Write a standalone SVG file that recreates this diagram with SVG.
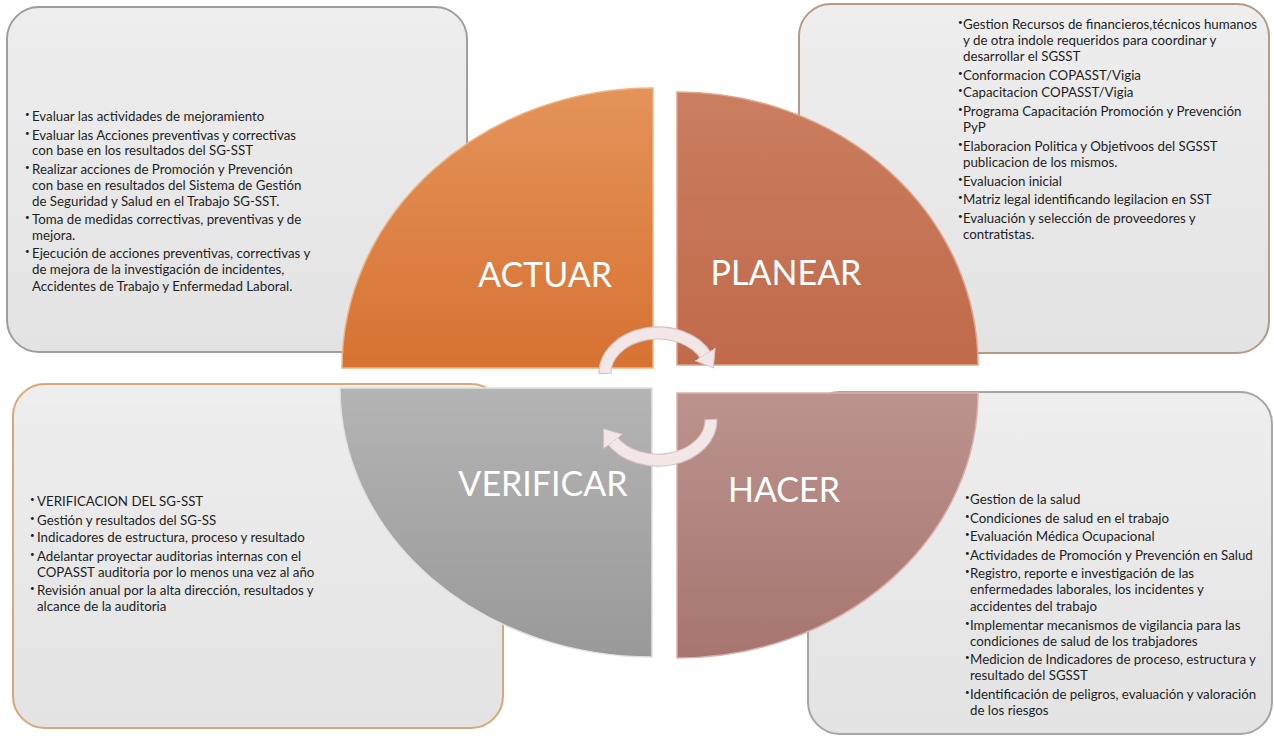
<svg xmlns="http://www.w3.org/2000/svg" width="1274" height="736" viewBox="0 0 1274 736">
  <style>
    .box { stroke-width: 2; }
    .body { font-family: Lato, "Liberation Sans", sans-serif; font-size: 13.3px; fill: #1e1e1e; }
    .bul { font-size: 8px; }
    .label { font-family: Lato, "Liberation Sans", sans-serif; font-size: 34px; fill: #ffffff; text-anchor: middle; }
    .arrow { fill: none; stroke: #f3e6e6; stroke-width: 11; }
    .arrow-edge { fill: none; stroke: #d6c0c0; stroke-width: 13; }
  </style>
  <defs>
    <linearGradient id="gBox" x1="0" y1="0" x2="0" y2="1">
      <stop offset="0" stop-color="#eeeeee"/>
      <stop offset="1" stop-color="#e3e3e3"/>
    </linearGradient>
    <linearGradient id="gAct" x1="0" y1="0" x2="0" y2="1">
      <stop offset="0" stop-color="#e4935a"/>
      <stop offset="1" stop-color="#d77232"/>
    </linearGradient>
    <linearGradient id="gPla" x1="0" y1="0" x2="0" y2="1">
      <stop offset="0" stop-color="#ca7e60"/>
      <stop offset="1" stop-color="#c06a4a"/>
    </linearGradient>
    <linearGradient id="gVer" x1="0" y1="0" x2="0" y2="1">
      <stop offset="0" stop-color="#b4b4b4"/>
      <stop offset="1" stop-color="#999999"/>
    </linearGradient>
    <linearGradient id="gHac" x1="0" y1="0" x2="0" y2="1">
      <stop offset="0" stop-color="#bc938d"/>
      <stop offset="1" stop-color="#a77570"/>
    </linearGradient>
    <marker id="head" markerUnits="userSpaceOnUse" markerWidth="18" markerHeight="26" viewBox="0 0 18 26" refX="2" refY="13" orient="auto">
      <path d="M0,1 L16,13 L0,25 Z" fill="#f3e6e6" stroke="#d6c0c0" stroke-width="1"/>
    </marker>
  </defs>

  <rect width="1274" height="736" fill="#ffffff"/>

  <!-- text boxes -->
  <g id="box-actuar">
    <rect class="box" x="7" y="7" width="460" height="345" rx="32" fill="url(#gBox)" stroke="#9e9e9e"/>
    <text class="body">
      <tspan x="25" y="117" class="bul">•</tspan><tspan x="32" y="121">Evaluar las actividades de mejoramiento</tspan>
      <tspan x="25" y="136" class="bul">•</tspan><tspan x="32" y="140">Evaluar las Acciones preventivas y correctivas</tspan>
      <tspan x="32" y="155">con base en los resultados del SG-SST</tspan>
      <tspan x="25" y="170" class="bul">•</tspan><tspan x="32" y="174">Realizar acciones de Promoción y Prevención</tspan>
      <tspan x="32" y="190">con base en resultados del Sistema de Gestión</tspan>
      <tspan x="32" y="206">de Seguridad y Salud en el Trabajo SG-SST.</tspan>
      <tspan x="25" y="220" class="bul">•</tspan><tspan x="32" y="224">Toma de medidas correctivas, preventivas y de</tspan>
      <tspan x="32" y="240">mejora.</tspan>
      <tspan x="25" y="254" class="bul">•</tspan><tspan x="32" y="258">Ejecución de acciones preventivas, correctivas y</tspan>
      <tspan x="32" y="274">de mejora de la investigación de incidentes,</tspan>
      <tspan x="32" y="291">Accidentes de Trabajo y Enfermedad Laboral.</tspan>
    </text>
  </g>

  <g id="box-planear">
    <rect class="box" x="799" y="4" width="470" height="349" rx="32" fill="url(#gBox)" stroke="#b79a84"/>
    <text class="body">
      <tspan x="958" y="25" class="bul">•</tspan><tspan x="963" y="29">Gestion Recursos de financieros,técnicos humanos</tspan>
      <tspan x="963" y="45">y de otra indole requeridos para coordinar y</tspan>
      <tspan x="963" y="61">desarrollar el SGSST</tspan>
      <tspan x="958" y="76" class="bul">•</tspan><tspan x="963" y="80">Conformacion COPASST/Vigia</tspan>
      <tspan x="958" y="93" class="bul">•</tspan><tspan x="963" y="97">Capacitacion COPASST/Vigia</tspan>
      <tspan x="958" y="112" class="bul">•</tspan><tspan x="963" y="116">Programa Capacitación Promoción y Prevención</tspan>
      <tspan x="963" y="132">PyP</tspan>
      <tspan x="958" y="147" class="bul">•</tspan><tspan x="963" y="151">Elaboracion Politica y Objetivoos del SGSST</tspan>
      <tspan x="963" y="167">publicacion de los mismos.</tspan>
      <tspan x="958" y="182" class="bul">•</tspan><tspan x="963" y="186">Evaluacion inicial</tspan>
      <tspan x="958" y="200" class="bul">•</tspan><tspan x="963" y="204">Matriz legal identificando legilacion en SST</tspan>
      <tspan x="958" y="219" class="bul">•</tspan><tspan x="963" y="223">Evaluación y selección de proveedores y</tspan>
      <tspan x="963" y="239">contratistas.</tspan>
    </text>
  </g>

  <g id="box-verificar">
    <rect class="box" x="13" y="384" width="490" height="344" rx="32" fill="url(#gBox)" stroke="#d7a878"/>
    <text class="body">
      <tspan x="30" y="502" class="bul">•</tspan><tspan x="37" y="506">VERIFICACION DEL SG-SST</tspan>
      <tspan x="30" y="521" class="bul">•</tspan><tspan x="37" y="525">Gestión y resultados del SG-SS</tspan>
      <tspan x="30" y="538" class="bul">•</tspan><tspan x="37" y="542">Indicadores de estructura, proceso y resultado</tspan>
      <tspan x="30" y="557" class="bul">•</tspan><tspan x="37" y="561">Adelantar proyectar auditorias internas con el</tspan>
      <tspan x="37" y="577">COPASST auditoria por lo menos una vez al año</tspan>
      <tspan x="30" y="591" class="bul">•</tspan><tspan x="37" y="595">Revisión anual por la alta dirección, resultados y</tspan>
      <tspan x="37" y="611">alcance de la auditoria</tspan>
    </text>
  </g>

  <g id="box-hacer">
    <rect class="box" x="808" y="392" width="464" height="342" rx="32" fill="url(#gBox)" stroke="#a6a6a6"/>
    <text class="body">
      <tspan x="965" y="500" class="bul">•</tspan><tspan x="970" y="504">Gestion de la salud</tspan>
      <tspan x="965" y="519" class="bul">•</tspan><tspan x="970" y="523">Condiciones de salud en el trabajo</tspan>
      <tspan x="965" y="537" class="bul">•</tspan><tspan x="970" y="541">Evaluación Médica Ocupacional</tspan>
      <tspan x="965" y="556" class="bul">•</tspan><tspan x="970" y="560">Actividades de Promoción y Prevención en Salud</tspan>
      <tspan x="965" y="574" class="bul">•</tspan><tspan x="970" y="578">Registro, reporte e investigación de las</tspan>
      <tspan x="970" y="594">enfermedades laborales, los incidentes y</tspan>
      <tspan x="970" y="611">accidentes del trabajo</tspan>
      <tspan x="965" y="626" class="bul">•</tspan><tspan x="970" y="630">Implementar mecanismos de vigilancia para las</tspan>
      <tspan x="970" y="646">condiciones de salud de los trabjadores</tspan>
      <tspan x="965" y="660" class="bul">•</tspan><tspan x="970" y="664">Medicion de Indicadores de proceso, estructura y</tspan>
      <tspan x="970" y="680">resultado del SGSST</tspan>
      <tspan x="965" y="695" class="bul">•</tspan><tspan x="970" y="699">Identificación de peligros, evaluación y valoración</tspan>
      <tspan x="970" y="715">de los riesgos</tspan>
    </text>
  </g>

  <!-- quadrants -->
  <g id="actuar">
    <path d="M653 368 L342 368 A311 280 0 0 1 653 88 Z" fill="url(#gAct)" stroke="#f0b27e" stroke-width="1.5"/>
    <text class="label" x="545" y="287">ACTUAR</text>
  </g>
  <g id="planear">
    <path d="M677 365 L677 92 A301 273 0 0 1 978 365 Z" fill="url(#gPla)" stroke="#e0a48a" stroke-width="1.5"/>
    <text class="label" x="786" y="285">PLANEAR</text>
  </g>
  <g id="verificar">
    <path d="M652 388 L340 388 A312 269 0 0 0 652 657 Z" fill="url(#gVer)" stroke="#e2e2e2" stroke-width="1.5"/>
    <text class="label" x="543" y="496">VERIFICAR</text>
  </g>
  <g id="hacer">
    <path d="M677 393 L978 393 A301 265 0 0 1 677 658 Z" fill="url(#gHac)" stroke="#d9b1ab" stroke-width="1.5"/>
    <text class="label" x="784" y="502">HACER</text>
  </g>

  <!-- cycle arrows -->
  <g id="connectors">
    <path class="arrow-edge" d="M605 374 A53 40 0 0 1 706 356"/>
    <path class="arrow" d="M605 373 A53 40 0 0 1 706 356" marker-end="url(#head)"/>
    <path class="arrow-edge" d="M711 419 A53 40 0 0 1 612 440"/>
    <path class="arrow" d="M711 420 A53 40 0 0 1 612 440" marker-end="url(#head)"/>
  </g>
</svg>
